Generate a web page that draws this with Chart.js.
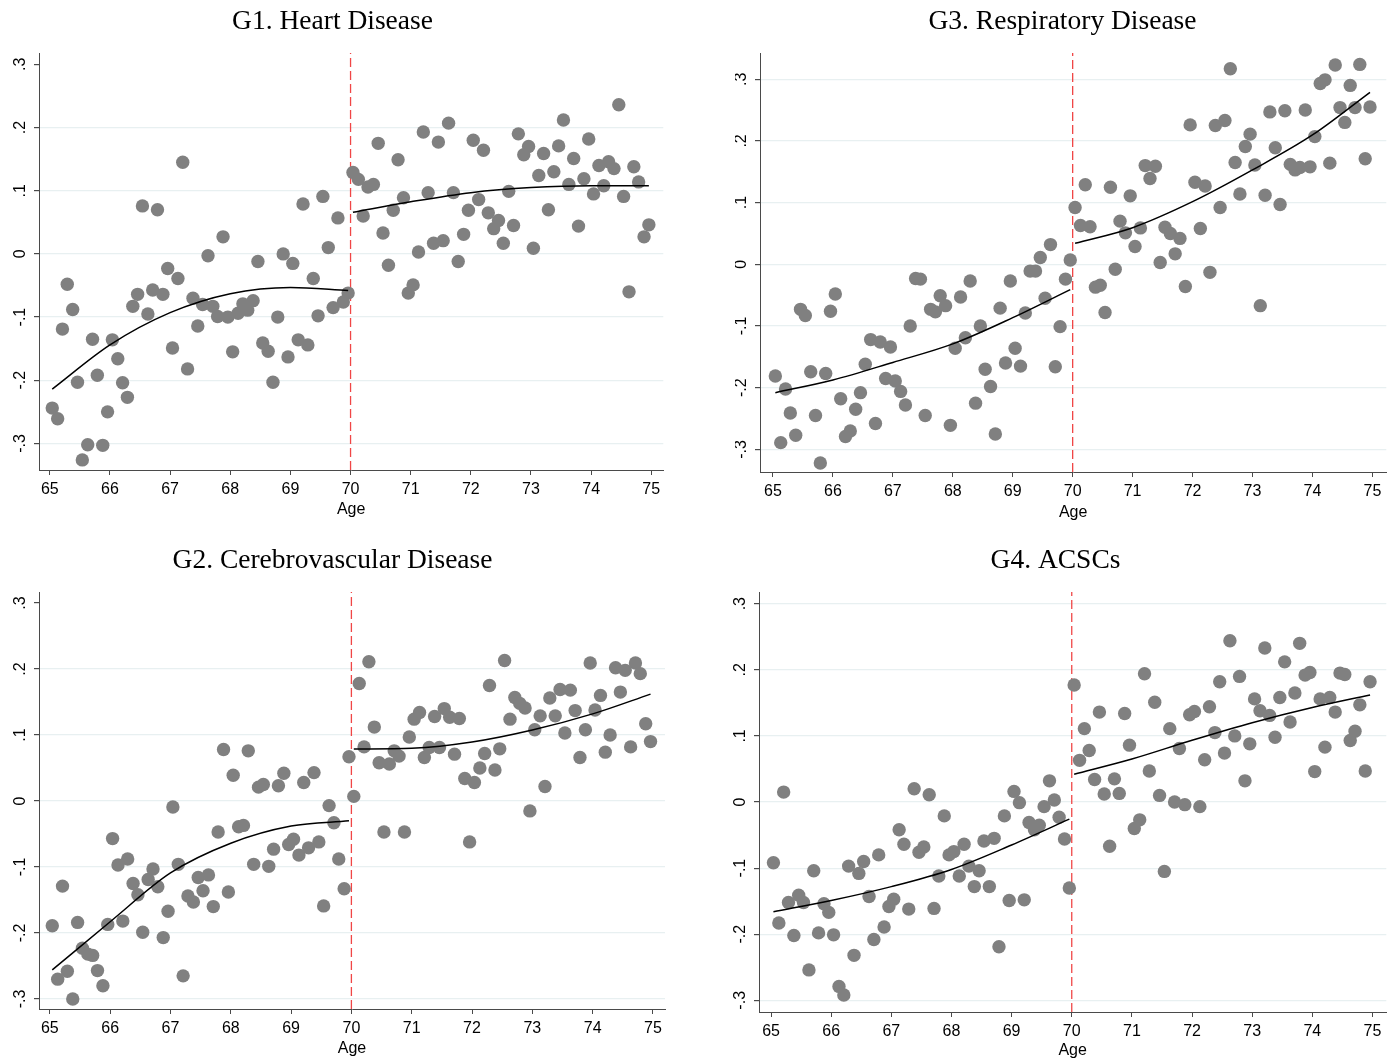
<!DOCTYPE html>
<html>
<head>
<meta charset="utf-8">
<script src="https://cdn.jsdelivr.net/npm/chart.js@4.4.1/dist/chart.umd.min.js"></script>
<style>
  body { margin: 0; background: #fff; }
  canvas { position: absolute; }
</style>
</head>
<body>
<canvas id="g1" width="670" height="530" style="left:0px;top:0px"></canvas>
<canvas id="g3" width="658" height="530" style="left:735px;top:0px"></canvas>
<canvas id="g2" width="682" height="531" style="left:0px;top:530px"></canvas>
<canvas id="g4" width="672" height="531" style="left:721px;top:530px"></canvas>
<script>
// Age in months (bin midpoints), shared by all four panels
const ages = [
  65.04, 65.13, 65.21, 65.29, 65.38, 65.46, 65.54, 65.63, 65.71, 65.79, 65.88, 65.96,
  66.04, 66.13, 66.21, 66.29, 66.38, 66.46, 66.54, 66.63, 66.71, 66.79, 66.88, 66.96,
  67.04, 67.13, 67.21, 67.29, 67.38, 67.46, 67.54, 67.63, 67.71, 67.79, 67.88, 67.96,
  68.04, 68.13, 68.21, 68.29, 68.38, 68.46, 68.54, 68.63, 68.71, 68.79, 68.88, 68.96,
  69.04, 69.13, 69.21, 69.29, 69.38, 69.46, 69.54, 69.63, 69.71, 69.79, 69.88, 69.96,
  70.04, 70.13, 70.21, 70.29, 70.38, 70.46, 70.54, 70.63, 70.71, 70.79, 70.88, 70.96,
  71.04, 71.13, 71.21, 71.29, 71.38, 71.46, 71.54, 71.63, 71.71, 71.79, 71.88, 71.96,
  72.04, 72.13, 72.21, 72.29, 72.38, 72.46, 72.54, 72.63, 72.71, 72.79, 72.88, 72.96,
  73.04, 73.13, 73.21, 73.29, 73.38, 73.46, 73.54, 73.63, 73.71, 73.79, 73.88, 73.96,
  74.04, 74.13, 74.21, 74.29, 74.38, 74.46, 74.54, 74.63, 74.71, 74.79, 74.88, 74.96
];

// G1. Heart Disease
const heart = [
  -0.244, -0.261, -0.119, -0.048, -0.088, -0.203, -0.326, -0.302, -0.135, -0.192, -0.303, -0.250,
  -0.136, -0.166, -0.204, -0.227, -0.083, -0.064, 0.076, -0.095, -0.057, 0.070, -0.064, -0.023,
  -0.149, -0.039, 0.145, -0.182, -0.070, -0.114, -0.080, -0.003, -0.083, -0.099, 0.027, -0.100,
  -0.155, -0.094, -0.079, -0.089, -0.074, -0.012, -0.141, -0.154, -0.203, -0.100, 0.000, -0.163,
  -0.015, -0.136, 0.079, -0.144, -0.039, -0.098, 0.091, 0.010, -0.085, 0.057, -0.076, -0.062,
  0.129, 0.118, 0.060, 0.106, 0.110, 0.175, 0.033, -0.018, 0.069, 0.149, 0.089, -0.062,
  -0.049, 0.003, 0.193, 0.097, 0.017, 0.177, 0.021, 0.207, 0.097, -0.012, 0.031, 0.069,
  0.180, 0.086, 0.164, 0.065, 0.040, 0.053, 0.017, 0.099, 0.045, 0.190, 0.157, 0.170,
  0.009, 0.124, 0.159, 0.070, 0.130, 0.171, 0.212, 0.110, 0.151, 0.044, 0.119, 0.182,
  0.095, 0.140, 0.108, 0.146, 0.135, 0.236, 0.091, -0.060, 0.138, 0.114, 0.027, 0.046
];

// G3. Respiratory Disease
const respiratory = [
  -0.181, -0.289, -0.202, -0.241, -0.277, -0.073, -0.083, -0.174, -0.245, -0.322, -0.177, -0.076,
  -0.048, -0.218, -0.279, -0.270, -0.235, -0.208, -0.162, -0.122, -0.258, -0.126, -0.185, -0.134,
  -0.189, -0.206, -0.228, -0.100, -0.023, -0.024, -0.245, -0.073, -0.077, -0.051, -0.067, -0.261,
  -0.136, -0.053, -0.119, -0.027, -0.225, -0.100, -0.170, -0.198, -0.275, -0.071, -0.160, -0.027,
  -0.136, -0.165, -0.079, -0.011, -0.011, 0.011, -0.055, 0.032, -0.166, -0.101, -0.024, 0.007,
  0.092, 0.063, 0.129, 0.061, -0.037, -0.034, -0.078, 0.125, -0.008, 0.070, 0.051, 0.111,
  0.029, 0.059, 0.160, 0.139, 0.159, 0.003, 0.060, 0.050, 0.017, 0.042, -0.036, 0.226,
  0.133, 0.058, 0.127, -0.013, 0.225, 0.092, 0.233, 0.317, 0.165, 0.114, 0.191, 0.211,
  0.161, -0.067, 0.112, 0.247, 0.189, 0.097, 0.249, 0.162, 0.153, 0.157, 0.250, 0.158,
  0.207, 0.293, 0.299, 0.164, 0.323, 0.254, 0.230, 0.290, 0.254, 0.324, 0.171, 0.255
];

// G2. Cerebrovascular Disease
const cerebro = [
  -0.189, -0.270, -0.129, -0.258, -0.300, -0.184, -0.223, -0.232, -0.234, -0.257, -0.280, -0.187,
  -0.057, -0.097, -0.182, -0.088, -0.125, -0.142, -0.199, -0.119, -0.103, -0.130, -0.207, -0.167,
  -0.009, -0.096, -0.265, -0.144, -0.153, -0.116, -0.136, -0.112, -0.160, -0.047, 0.078, -0.138,
  0.039, -0.039, -0.037, 0.076, -0.096, 0.021, 0.025, -0.099, -0.073, 0.023, 0.042, -0.066,
  -0.058, -0.082, 0.028, -0.071, 0.043, -0.062, -0.159, -0.007, -0.033, -0.088, -0.133, 0.067,
  0.007, 0.178, 0.082, 0.211, 0.112, 0.058, -0.047, 0.056, 0.076, 0.068, -0.047, 0.097,
  0.124, 0.134, 0.066, 0.081, 0.128, 0.081, 0.140, 0.127, 0.071, 0.125, 0.034, -0.062,
  0.028, 0.050, 0.072, 0.175, 0.047, 0.079, 0.213, 0.124, 0.157, 0.148, 0.141, -0.015,
  0.108, 0.129, 0.022, 0.156, 0.129, 0.169, 0.103, 0.168, 0.137, 0.066, 0.108, 0.209,
  0.138, 0.160, 0.074, 0.100, 0.202, 0.165, 0.198, 0.082, 0.209, 0.193, 0.117, 0.090
];

// G4. ACSCs
const acsc = [
  -0.092, -0.183, 0.015, -0.152, -0.202, -0.141, -0.152, -0.254, -0.104, -0.198, -0.154, -0.167,
  -0.201, -0.279, -0.292, -0.097, -0.232, -0.108, -0.090, -0.143, -0.208, -0.080, -0.189, -0.158,
  -0.147, -0.042, -0.064, -0.162, 0.020, -0.076, -0.068, 0.011, -0.161, -0.112, -0.021, -0.080,
  -0.075, -0.112, -0.064, -0.097, -0.128, -0.104, -0.059, -0.128, -0.055, -0.219, -0.021, -0.149,
  0.016, -0.001, -0.148, -0.031, -0.042, -0.035, -0.007, 0.032, 0.003, -0.023, -0.056, -0.130,
  0.177, 0.063, 0.111, 0.078, 0.034, 0.136, 0.012, -0.067, 0.035, 0.013, 0.134, 0.086,
  -0.040, -0.027, 0.194, 0.047, 0.151, 0.010, -0.105, 0.111, 0.000, 0.081, -0.004, 0.132,
  0.137, -0.007, 0.064, 0.144, 0.105, 0.182, 0.074, 0.244, 0.100, 0.190, 0.032, 0.088,
  0.156, 0.138, 0.233, 0.131, 0.098, 0.158, 0.212, 0.121, 0.165, 0.240, 0.192, 0.196,
  0.046, 0.156, 0.083, 0.158, 0.136, 0.195, 0.193, 0.093, 0.107, 0.147, 0.047, 0.182
];

// fitted curves at a few ages on each side of the cutoff
const fitAgesLeft = [65.04, 66, 67, 68, 69, 69.96];
const fitAgesRight = [70.04, 71, 72, 73, 74, 74.96];
const heartFitLeft = [-0.214, -0.144, -0.093, -0.063, -0.053, -0.058];
const heartFitRight = [0.066, 0.0825, 0.097, 0.105, 0.108, 0.108];
const respFitLeft = [-0.208, -0.1875, -0.159, -0.129, -0.0865, -0.041];
const respFitRight = [0.034, 0.0594, 0.1015, 0.153, 0.2096, 0.2788];
const cerebroFitLeft = [-0.256, -0.183, -0.109, -0.064, -0.038, -0.030];
const cerebroFitRight = [0.0788, 0.080, 0.0894, 0.1076, 0.132, 0.162];
const acscFitLeft = [-0.166, -0.149, -0.128, -0.102, -0.065, -0.026];
const acscFitRight = [0.042, 0.065, 0.0934, 0.120, 0.143, 0.162];

const cutoff = 70;
const xTicks = [65, 66, 67, 68, 69, 70, 71, 72, 73, 74, 75];
const yTicks = [-0.3, -0.2, -0.1, 0, 0.1, 0.2, 0.3];

const axisColor = '#4a4a4a';
const gridColor = 'rgb(232,240,241)';

Chart.defaults.font.family = "'Liberation Sans', Arial, Helvetica, sans-serif";
Chart.defaults.color = '#000';

// Stata style labels: .3, -.2, 0
function fmtTick(v) {
  if (Math.abs(v) < 1e-9) return '0';
  return v.toFixed(1).replace('0.', '.');
}

function toPoints(xs, ys) {
  return ys.map((y, i) => ({ x: xs[i], y: y }));
}

function makePanel(p) {
  return new Chart(document.getElementById(p.id), {
    type: 'scatter',
    data: {
      datasets: [
        {
          // dashed cutoff line at age 70
          data: [{ x: cutoff, y: p.yMin }, { x: cutoff, y: p.yMax }],
          showLine: true,
          borderColor: 'rgb(240,70,70)',
          borderWidth: 1.3,
          borderDash: [9, 4],
          pointRadius: 0,
          order: 3
        },
        {
          data: toPoints(ages, p.values),
          backgroundColor: '#808080',
          borderWidth: 0,
          pointRadius: 6.7,
          pointHoverRadius: 6.7,
          order: 2
        },
        {
          data: toPoints(fitAgesLeft, p.fitLeft),
          showLine: true,
          borderColor: '#000',
          borderWidth: 1.5,
          pointRadius: 0,
          cubicInterpolationMode: 'monotone',
          order: 1
        },
        {
          data: toPoints(fitAgesRight, p.fitRight),
          showLine: true,
          borderColor: '#000',
          borderWidth: 1.5,
          pointRadius: 0,
          cubicInterpolationMode: 'monotone',
          order: 1
        }
      ]
    },
    options: {
      responsive: false,
      animation: false,
      events: [],
      layout: { padding: p.padding },
      plugins: {
        legend: { display: false },
        tooltip: { enabled: false },
        title: {
          display: true,
          text: p.title,
          color: '#000',
          font: { family: "'Liberation Serif', 'Times New Roman', serif", size: 27.5, weight: 'normal', lineHeight: 1.2 },
          padding: p.titlePad
        }
      },
      scales: {
        x: {
          type: 'linear',
          min: p.xMin,
          max: p.xMax,
          afterBuildTicks: s => { s.ticks = xTicks.map(v => ({ value: v })); },
          afterFit: s => { s.height = p.xAxisHeight; },
          grid: { drawOnChartArea: false, tickLength: 5, tickColor: axisColor, tickWidth: 1 },
          border: { color: axisColor, width: 1 },
          ticks: { font: { size: 16 }, padding: 5, autoSkip: false, maxRotation: 0, color: '#000' },
          title: { display: true, text: 'Age', color: '#000', font: { size: 16 }, padding: { top: 0, bottom: p.xTitleBottom } }
        },
        y: {
          min: p.yMin,
          max: p.yMax,
          afterBuildTicks: s => { s.ticks = yTicks.map(v => ({ value: v })); },
          afterFit: s => { s.width = p.yAxisWidth; },
          grid: {
            color: ctx => (!p.topGrid && Math.abs(ctx.tick.value - 0.3) < 1e-9) ? 'rgba(0,0,0,0)' : gridColor,
            lineWidth: 1.2,
            tickLength: 5,
            tickColor: axisColor
          },
          border: { color: axisColor, width: 1 },
          ticks: {
            minRotation: 90,
            maxRotation: 90,
            crossAlign: 'center',
            autoSkip: false,
            padding: 4,
            font: { size: 16 },
            color: '#000',
            callback: v => fmtTick(v)
          }
        }
      }
    }
  });
}

makePanel({
  id: 'g1', title: 'G1. Heart Disease', values: heart, fitLeft: heartFitLeft, fitRight: heartFitRight,
  xMin: 64.82, xMax: 75.2, yMin: -0.342, yMax: 0.318, topGrid: false,
  padding: { left: 0, right: 5, top: 0, bottom: 5 }, yAxisWidth: 39, xAxisHeight: 55,
  titlePad: { top: 5.5, bottom: 14.5 }, xTitleBottom: 6
});

makePanel({
  id: 'g3', title: 'G3. Respiratory Disease', values: respiratory, fitLeft: respFitLeft, fitRight: respFitRight,
  xMin: 64.784, xMax: 75.232, yMin: -0.3366, yMax: 0.3425, topGrid: true,
  padding: { left: 0, right: 3, top: 0, bottom: 3 }, yAxisWidth: 25, xAxisHeight: 55,
  titlePad: { top: 5.5, bottom: 14.5 }, xTitleBottom: 5
});

makePanel({
  id: 'g2', title: 'G2. Cerebrovascular Disease', values: cerebro, fitLeft: cerebroFitLeft, fitRight: cerebroFitRight,
  xMin: 64.82, xMax: 75.2, yMin: -0.3152, yMax: 0.3167, topGrid: false,
  padding: { left: 0, right: 17, top: 0, bottom: 2 }, yAxisWidth: 39, xAxisHeight: 50,
  titlePad: { top: 14.5, bottom: 14.5 }, xTitleBottom: 1
});

makePanel({
  id: 'g4', title: 'G4. ACSCs', values: acsc, fitLeft: acscFitLeft, fitRight: acscFitRight,
  xMin: 64.8, xMax: 75.23, yMin: -0.3177, yMax: 0.3177, topGrid: true,
  padding: { left: 0, right: 3, top: 0, bottom: 1 }, yAxisWidth: 38, xAxisHeight: 48,
  titlePad: { top: 14.5, bottom: 14.5 }, xTitleBottom: 0
});
</script>
</body>
</html>
